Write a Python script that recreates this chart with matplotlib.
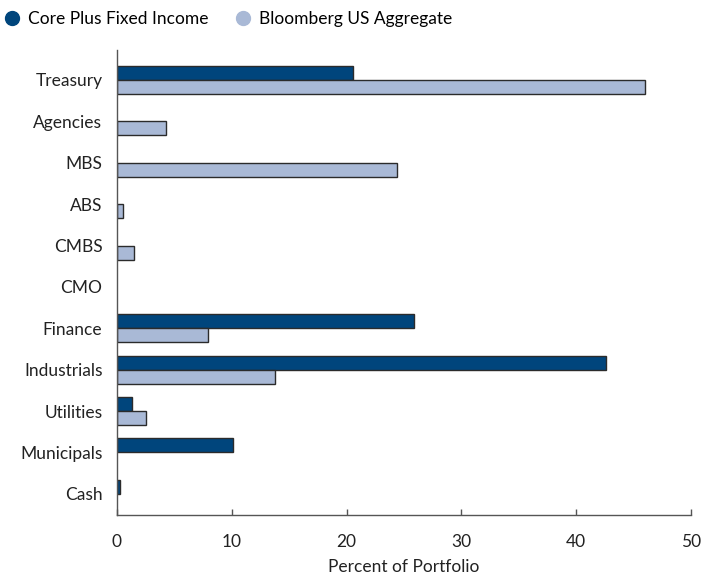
import matplotlib
matplotlib.use("Agg")
import matplotlib.pyplot as plt
import numpy as np
from matplotlib.lines import Line2D

categories = ["Treasury", "Agencies", "MBS", "ABS", "CMBS", "CMO", "Finance",
              "Industrials", "Utilities", "Municipals", "Cash"]
core_plus = [20.6, 0, 0, 0, 0, 0, 25.9, 42.6, 1.3, 10.1, 0.3]
bbg_agg = [46.0, 4.3, 24.4, 0.5, 1.5, 0, 7.9, 13.8, 2.5, 0, 0]
series_names = ["Core Plus Fixed Income", "Bloomberg US Aggregate"]
xticks = [0, 10, 20, 30, 40, 50]
xlabel = "Percent of Portfolio"

colors = ["#00457C", "#A9B9D6"]
edge = "#2b2b2b"
plt.rcParams['font.family'] = ['Lato', 'DejaVu Sans']
fs = 12.5

fig = plt.figure(figsize=(7.03, 5.77), dpi=100)
ax = fig.add_axes([0.1664, 0.1075, 0.8166, 0.8055])

y = np.arange(len(categories))
h = 0.34
for vals, off, c in [(core_plus, -h / 2, colors[0]), (bbg_agg, h / 2, colors[1])]:
    vals = np.asarray(vals, dtype=float)
    m = vals > 0
    ax.barh(y[m] + off, vals[m], height=h, color=c, edgecolor=edge, linewidth=1)

ax.set_xlim(0, 50)
ax.set_ylim(10.51, -0.72)
ax.set_yticks(y)
ax.set_yticklabels(categories, fontsize=fs, color="#222222")
ax.tick_params(axis='y', length=0, pad=10.5)
ax.set_xticks(xticks)
ax.set_xticklabels([str(t) for t in xticks], fontsize=fs, color="#222222")
ax.tick_params(axis='x', direction='in', length=4, width=1, color="#555555", pad=14)
for s in ['top', 'right']:
    ax.spines[s].set_visible(False)
for s in ['left', 'bottom']:
    ax.spines[s].set_color("#555555")
    ax.spines[s].set_linewidth(1)
ax.set_xlabel(xlabel, fontsize=fs, color="#222222", labelpad=6)

handles = [Line2D([], [], marker='o', linestyle='none', markersize=10,
                  markerfacecolor=c, markeredgecolor=c) for c in colors]
fig.legend(handles, series_names, loc='upper left', bbox_to_anchor=(-0.017, 1.005),
           ncol=2, frameon=False, fontsize=fs, handletextpad=0.3,
           columnspacing=1.4, borderaxespad=0.4, handlelength=1.2)

fig.savefig("out.png", dpi=100)
